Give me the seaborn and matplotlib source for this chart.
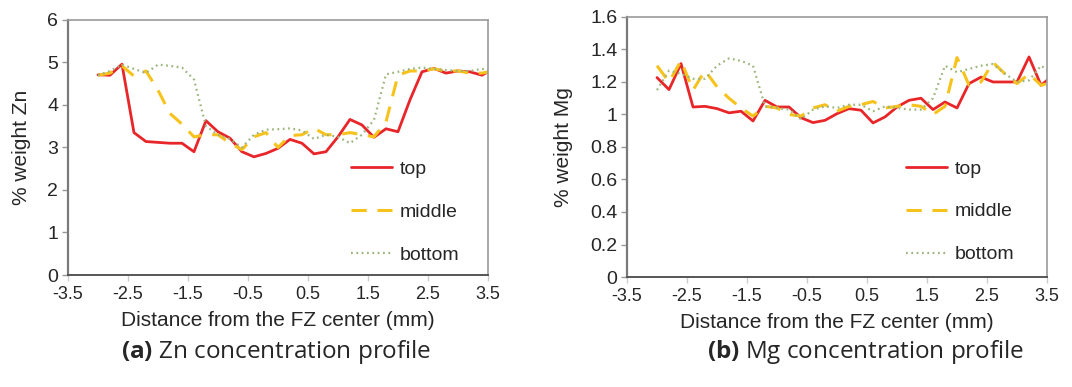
import numpy as np
import pandas as pd
import matplotlib
matplotlib.use("Agg")
import matplotlib.pyplot as plt
import seaborn as sns

distance = [-3.0, -2.8, -2.6, -2.4, -2.2, -2.0, -1.8, -1.6, -1.4, -1.2, -1.0,
            -0.8, -0.6, -0.4, -0.2, 0.0, 0.2, 0.4, 0.6, 0.8, 1.0, 1.2, 1.4,
            1.6, 1.8, 2.0, 2.2, 2.4, 2.6, 2.8, 3.0, 3.2, 3.4, 3.6]

zn_top = [4.71, 4.70, 4.96, 3.35, 3.14, 3.12, 3.10, 3.10, 2.90, 3.63, 3.37,
          3.22, 2.90, 2.78, 2.86, 2.98, 3.19, 3.10, 2.85, 2.90, 3.25, 3.66, 3.53,
          3.24, 3.44, 3.37, 4.12, 4.78, 4.86, 4.75, 4.80, 4.78, 4.70, 4.86]
zn_middle = [4.70, 4.75, 4.92, 4.68, 4.80, 4.35, 3.80, 3.55, 3.25, 3.30, 3.30,
             3.10, 2.95, 3.25, 3.35, 3.00, 3.28, 3.30, 3.45, 3.30, 3.30, 3.35, 3.30,
             3.25, 3.60, 4.70, 4.80, 4.80, 4.85, 4.80, 4.80, 4.75, 4.75, 4.80]
zn_bottom = [4.70, 4.80, 4.95, 4.85, 4.75, 4.95, 4.92, 4.88, 4.60, 3.50, 3.30,
             3.20, 3.00, 3.30, 3.42, 3.43, 3.45, 3.40, 3.20, 3.30, 3.25, 3.10, 3.30,
             3.65, 4.72, 4.78, 4.85, 4.88, 4.85, 4.82, 4.80, 4.80, 4.85, 4.80]

mg_top = [1.227, 1.153, 1.313, 1.046, 1.050, 1.036, 1.010, 1.020, 0.960, 1.087, 1.046,
          1.046, 0.980, 0.950, 0.964, 1.005, 1.036, 1.026, 0.948, 0.985, 1.046, 1.087, 1.100,
          1.030, 1.077, 1.040, 1.190, 1.230, 1.200, 1.200, 1.200, 1.354, 1.180, 1.240]
mg_middle = [1.30, 1.20, 1.33, 1.15, 1.27, 1.17, 1.10, 1.04, 0.99, 1.05, 1.04,
             1.00, 0.99, 1.04, 1.06, 1.02, 1.05, 1.06, 1.08, 1.04, 1.05, 1.06, 1.05,
             1.00, 1.05, 1.35, 1.18, 1.20, 1.32, 1.25, 1.19, 1.25, 1.18, 1.20]
mg_bottom = [1.15, 1.27, 1.25, 1.22, 1.22, 1.30, 1.345, 1.33, 1.30, 1.05, 1.04,
             1.03, 0.97, 1.03, 1.05, 1.04, 1.06, 1.06, 1.02, 1.05, 1.04, 1.03, 1.03,
             1.10, 1.30, 1.26, 1.28, 1.30, 1.31, 1.25, 1.20, 1.21, 1.30, 1.25]

series_names = ["top", "middle", "bottom"]
x_ticks = [-3.5, -2.5, -1.5, -0.5, 0.5, 1.5, 2.5, 3.5]
zn_ticks = [0, 1, 2, 3, 4, 5, 6]
mg_ticks = [0, 0.2, 0.4, 0.6, 0.8, 1.0, 1.2, 1.4, 1.6]
mg_tick_labels = ["0", "0.2", "0.4", "0.6", "0.8", "1", "1.2", "1.4", "1.6"]
captions = [("(a)", "Zn concentration profile"), ("(b)", "Mg concentration profile")]

sns.set_theme(style="white")
plt.rcParams['font.family'] = ['Liberation Sans', 'DejaVu Sans']
plt.rcParams['mathtext.fontset'] = 'custom'
plt.rcParams['mathtext.bf'] = 'Open Sans:bold'
plt.rcParams['mathtext.rm'] = 'Open Sans'

styles = {
    "top": dict(color="#e8262a", linewidth=2.0, linestyle="-"),
    "middle": dict(color="#f6c21c", linewidth=2.2, linestyle=(0, (5, 3.5))),
    "bottom": dict(color="#9cb57c", linewidth=1.6, linestyle=(0, (0.8, 1.6))),
}

fig = plt.figure(figsize=(10.72, 3.87), dpi=100)
ax1 = fig.add_axes([0.0634, 0.2894, 0.3918, 0.659])
ax2 = fig.add_axes([0.5849, 0.2842, 0.3918, 0.672])

def draw(ax, values, yticks, ylabels, ylim, ylabel, leg_anchor):
    df = pd.DataFrame({"distance": distance * 3,
                       "value": values[0] + values[1] + values[2],
                       "series": sum([[n] * len(distance) for n in series_names], [])})
    for name in series_names:
        sub = df[df["series"] == name]
        st = styles[name]
        sns.lineplot(data=sub, x="distance", y="value", ax=ax, label=name,
                     color=st["color"], linewidth=st["linewidth"], sort=False)
        ax.lines[-1].set_linestyle(st["linestyle"])
    ax.set_xlim(-3.5, 3.5)
    ax.set_ylim(*ylim)
    ax.set_xticks(x_ticks)
    ax.set_xticklabels([f"{t:g}" for t in x_ticks], fontsize=13)
    ax.set_yticks(yticks)
    ax.set_yticklabels(ylabels, fontsize=14)
    ax.tick_params(axis="y", length=4, width=1, color="#999999", pad=3, direction="out", left=True)
    ax.tick_params(axis="x", length=4, width=1, color="#cccccc", pad=4, direction="out", bottom=True)
    ax.set_xlabel("Distance from the FZ center (mm)", fontsize=15, labelpad=6)
    ax.set_ylabel(ylabel, fontsize=15, labelpad=12)
    for side in ["top", "right"]:
        ax.spines[side].set_color("#9a9a9a")
        ax.spines[side].set_linewidth(1.2)
    ax.spines["left"].set_color("#7a7a7a")
    ax.spines["left"].set_linewidth(1.6)
    ax.spines["bottom"].set_color("#555555")
    ax.spines["bottom"].set_linewidth(1.4)
    leg = ax.legend(loc="upper left", bbox_to_anchor=leg_anchor, frameon=False,
                    fontsize=14, handlelength=2.1, labelspacing=1.3,
                    borderpad=0, borderaxespad=0, handletextpad=0.4)
    for h, name in zip(leg.get_lines(), series_names):
        h.set_linestyle(styles[name]["linestyle"])
    ax.grid(False)

draw(ax1, [zn_top, zn_middle, zn_bottom], zn_ticks, [str(t) for t in zn_ticks],
     (0, 6), "% weight Zn", (0.674, 0.45))
draw(ax2, [mg_top, mg_middle, mg_bottom], mg_ticks, mg_tick_labels,
     (0, 1.6), "% weight Mg", (0.664, 0.45))

for xc, (letter, text) in zip([0.258, 0.807], captions):
    fig.text(xc, 0.09, r"$\mathbf{" + letter + r"}$" + " " + text,
             fontsize=17.5, family=['Open Sans', 'DejaVu Sans'],
             ha="center", va="center")

fig.savefig("out.png", dpi=100)
